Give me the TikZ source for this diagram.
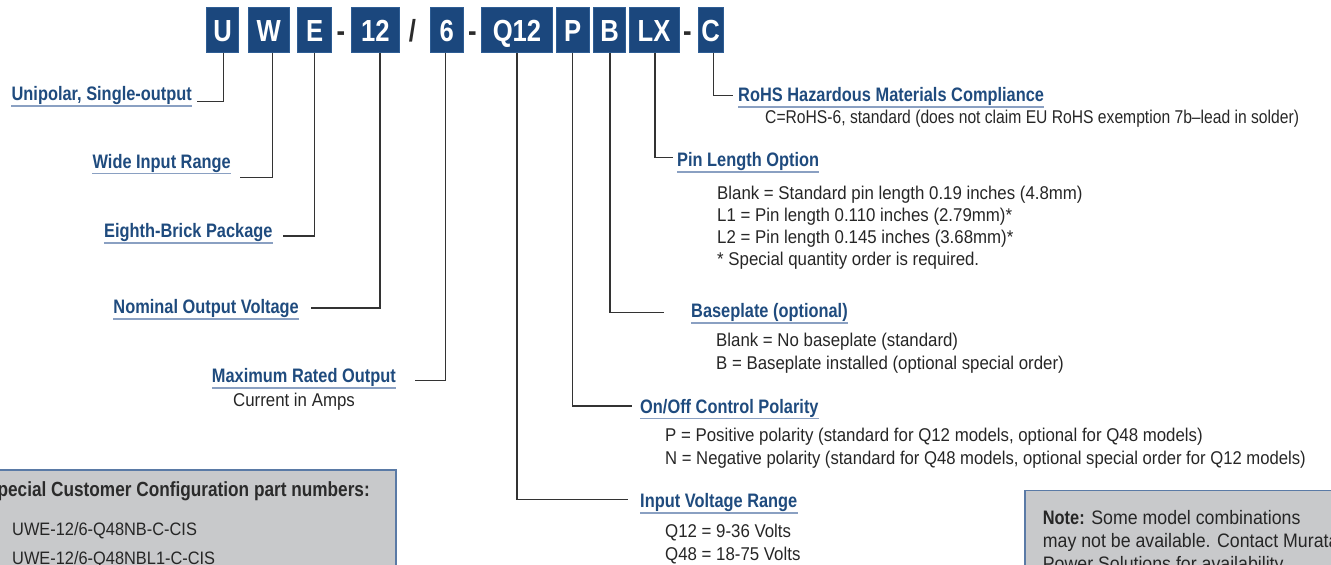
\documentclass[tikz,border=0pt]{standalone}
\usepackage{graphicx}
\usepackage{fontspec}
\setmainfont{Liberation Sans}[FakeStretch=0.91]
\newfontfamily\cond{Liberation Sans}[FakeStretch=0.84]
\definecolor{boxblue}{HTML}{1B477D}
\definecolor{boxedge}{HTML}{2E5D94}
\definecolor{labblue}{HTML}{1F4B7E}
\definecolor{ulblue}{HTML}{8AA0C2}
\definecolor{conngray}{HTML}{333333}
\definecolor{bodygray}{HTML}{262626}
\definecolor{boxgray}{HTML}{C8C9CB}
\definecolor{boxborder}{HTML}{5A7AA6}
\definecolor{sepgray}{HTML}{2B2B2B}
\begin{document}
\begin{tikzpicture}[x=1pt,y=-1pt,
  box/.style={fill=boxblue, draw=boxedge, line width=0.8pt, text=white,
    font=\cond\bfseries\fontsize{30.5}{31}\selectfont, minimum height=45pt,
    inner sep=0pt, text height=23.8pt, text depth=0pt},
  sepch/.style={font=\cond\bfseries\fontsize{30.5}{31}\selectfont, text=sepgray, inner sep=0pt, anchor=base},
  lab/.style={font=\cond\bfseries\fontsize{19.5}{22}\selectfont, text=labblue, inner sep=0pt},
  body/.style={font=\fontsize{18.5}{22}\selectfont, text=bodygray, inner sep=0pt, anchor=base west},
  conn/.style={draw=conngray, line width=1.3pt},
  uline/.style={draw=ulblue, line width=1.8pt},
  graybox/.style={fill=boxgray, draw=boxborder, line width=1.3pt, inner sep=0pt}]
\useasboundingbox (0,0) rectangle (1331,565);
\clip (0,0) rectangle (1331,565);

% part-number boxes
\node[box, minimum width=31.6pt] (bU) at (222.5,29.8) {U};
\node[box, minimum width=40.7pt] (bW) at (268.7,29.8) {W};
\node[box, minimum width=34pt] (bE) at (314.7,29.8) {E};
\node[sepch] (d1) at (341,41.7) {-};
\node[box, minimum width=47.3pt] (b12) at (375.3,29.8) {12};
\node[sepch] (sl) at (412.5,41.7) {/};
\node[box, minimum width=33.3pt] (b6) at (446.7,29.8) {6};
\node[sepch] (d2) at (472.5,41.7) {-};
\node[box, minimum width=70.6pt] (bQ) at (517,29.8) {Q12};
\node[box, minimum width=33.3pt] (bP) at (572.7,29.8) {P};
\node[box, minimum width=32.4pt] (bB) at (609.5,29.8) {B};
\node[box, minimum width=50pt] (bLX) at (654,29.8) {LX};
\node[sepch] (d3) at (687.5,41.7) {-};
\node[box, minimum width=25pt] (bC) at (710.5,29.8) {C};

% left labels
\node[lab, anchor=base east] (uni) at (192,100.5) {Unipolar, Single-output};
\node[lab, anchor=base east] (wide) at (231,168) {Wide Input Range};
\node[lab, anchor=base east] (eighth) at (272.7,237.8) {Eighth-Brick Package};
\node[lab, anchor=base east] (nom) at (299,313.5) {Nominal Output Voltage};
\node[lab, anchor=base east] (max) at (396,382.5) {Maximum Rated Output};
\node[body] (cur) at (233,406) {Current in Amps};

% right labels
\node[lab, anchor=base west] (rohs) at (738,101.2) {RoHS Hazardous Materials Compliance};
\node[body] (rohs1) at (765,123) {\scalebox{0.93}[1]{C=RoHS-6, standard (does not claim EU RoHS exemption 7b–lead in solder)}};

\node[lab, anchor=base west] (pin) at (677,166.2) {Pin Length Option};
\node[body] (pin1) at (717,199.5) {Blank = Standard pin length 0.19 inches (4.8mm)};
\node[body] (pin2) at (717,221.5) {L1 = Pin length 0.110 inches (2.79mm)*};
\node[body] (pin3) at (717,243.5) {L2 = Pin length 0.145 inches (3.68mm)*};
\node[body] (pin4) at (717,265.5) {* Special quantity order is required.};

\node[lab, anchor=base west] (base) at (691,317.8) {Baseplate (optional)};
\node[body] (base1) at (716,346) {Blank = No baseplate (standard)};
\node[body] (base2) at (716,369) {B = Baseplate installed (optional special order)};

\node[lab, anchor=base west] (onoff) at (640,413) {On/Off Control Polarity};
\node[body] (onoff1) at (665,441) {P = Positive polarity (standard for Q12 models, optional for Q48 models)};
\node[body] (onoff2) at (665,464) {\scalebox{0.99}[1]{N = Negative polarity (standard for Q48 models, optional special order for Q12 models)}};

\node[lab, anchor=base west] (input) at (640,507.2) {Input Voltage Range};
\node[body] (input1) at (665,537) {Q12 = 9-36 Volts};
\node[body] (input2) at (665,560) {Q48 = 18-75 Volts};

% underlines
\foreach \n in {uni,wide,eighth,nom,max,rohs,pin,base,onoff,input}
  \draw[uline] ([yshift=-5.5pt]\n.base west) -- ([yshift=-5.5pt]\n.base east);

% connectors
\draw[conn] ([xshift=0.8pt]bU.south) |- ([xshift=5pt,yshift=-1.2pt]uni.base east);
\draw[conn] ([xshift=3.6pt]bW.south) |- ([xshift=9pt,yshift=-9.7pt]wide.base east);
\draw[conn] ([xshift=-0.4pt]bE.south) |- ([xshift=10.3pt,yshift=1.8pt]eighth.base east);
\draw[conn] ([xshift=4.7pt]b12.south) |- ([xshift=12pt,yshift=5.5pt]nom.base east);
\draw[conn] ([xshift=-1pt]b6.south) |- ([xshift=19pt,yshift=1.8pt]max.base east);
\draw[conn] (bQ.south) |- ([xshift=-12pt,yshift=8pt]input.base west);
\draw[conn] (bP.south) |- ([xshift=-8pt,yshift=7pt]onoff.base west);
\draw[conn] ([xshift=0.5pt]bB.south) |- ([xshift=-27pt,yshift=5.5pt]base.base west);
\draw[conn] ([xshift=1pt]bLX.south) |- ([xshift=-4pt,yshift=8.5pt]pin.base west);
\draw[conn] ([xshift=3.2pt]bC.south) |- ([xshift=-5pt,yshift=5.5pt]rohs.base west);

% special configuration box
\node[graybox, minimum width=416pt, minimum height=130pt] (spec) at (188,535) {};
\node[font=\cond\bfseries\fontsize{20.5}{22}\selectfont, text=sepgray, inner sep=0pt, anchor=base east] (spech) at (370,496.7) {Special Customer Configuration part numbers:};
\node[body, font=\fontsize{18}{22}\selectfont] (spec1) at (12,535) {UWE-12/6-Q48NB-C-CIS};
\node[body, font=\fontsize{18}{22}\selectfont] (spec2) at (12,564.7) {UWE-12/6-Q48NBL1-C-CIS};

% note box
\node[graybox, minimum width=335pt, minimum height=110pt] (note) at (1192.5,545.7) {};
\node[body, font=\fontsize{19.5}{22}\selectfont] (note1) at (1042.7,524.5) {{\cond\bfseries Note:} Some model combinations};
\node[body, font=\fontsize{19.5}{22}\selectfont] (note2) at (1042.7,547) {may not be available. Contact Murata};
\node[body, font=\fontsize{19.5}{22}\selectfont] (note3) at (1042.7,570) {Power Solutions for availability.};
\end{tikzpicture}
\end{document}
